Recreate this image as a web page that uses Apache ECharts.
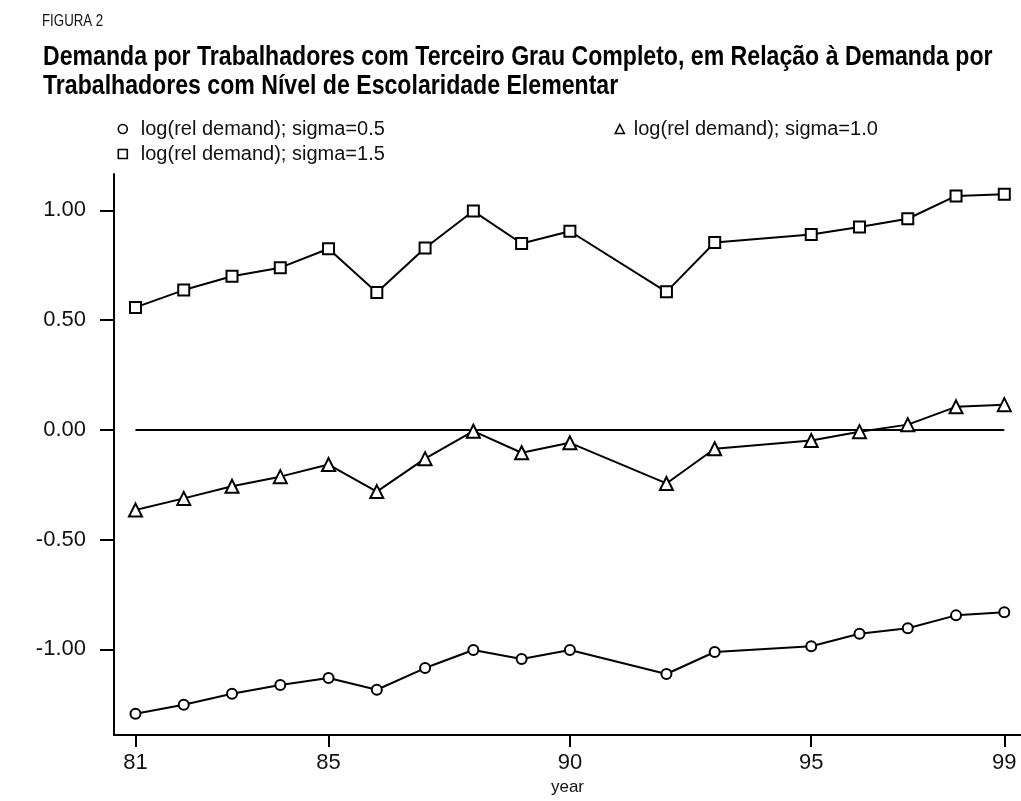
<!DOCTYPE html>
<html>
<head>
<meta charset="utf-8">
<script src="https://cdn.jsdelivr.net/npm/echarts@6/dist/echarts.min.js"></script>
<style>
html,body{margin:0;padding:0;background:#fff;}
#chart{width:1021px;height:801px;}
</style>
</head>
<body>
<div id="chart"></div>
<script>
const years = [81, 82, 83, 84, 85, 86, 87, 88, 89, 90, 92, 93, 95, 96, 97, 98, 99];
const sigma05 = [-1.293, -1.252, -1.202, -1.162, -1.130, -1.184, -1.085, -1.003, -1.044, -1.003, -1.112, -1.012, -0.986, -0.929, -0.904, -0.845, -0.831];
const sigma10 = [-0.365, -0.312, -0.257, -0.213, -0.158, -0.281, -0.131, -0.006, -0.104, -0.059, -0.244, -0.086, -0.048, -0.008, 0.024, 0.105, 0.115];
const sigma15 = [0.558, 0.637, 0.700, 0.739, 0.825, 0.626, 0.829, 0.997, 0.849, 0.905, 0.629, 0.854, 0.890, 0.924, 0.962, 1.066, 1.074];
const zeroLine = [[81, 0], [99, 0]];
const xTicks = [81, 85, 90, 95, 99];
const yTicks = [-1.0, -0.5, 0.0, 0.5, 1.0];
const names = ['log(rel demand); sigma=0.5', 'log(rel demand); sigma=1.0', 'log(rel demand); sigma=1.5'];
const figLabel = 'FIGURA 2';
const titleText = 'Demanda por Trabalhadores com Terceiro Grau Completo, em Relação à Demanda por\nTrabalhadores com Nível de Escolaridade Elementar';

const FONT = '"Liberation Sans", Arial, sans-serif';
const pair = (vals) => years.map((y, i) => [y, vals[i]]);

const chart = echarts.init(document.getElementById('chart'), null, {renderer: 'canvas'});

const legendBase = {
  orient: 'horizontal',
  padding: 0,
  itemWidth: 9,
  itemHeight: 9,
  inactiveColor: '#111',
  selectedMode: false
};
const legendText = (pad) => ({fontFamily: FONT, fontSize: 20, color: '#111', padding: [0, 0, 0, pad]});
const iconStyle = {color: '#fff', borderColor: '#000', borderWidth: 1.6};

const seriesStyle = (name, symbol, size, vals) => ({
  name: name,
  type: 'line',
  data: pair(vals),
  symbol: symbol,
  symbolSize: size,
  showAllSymbol: true,
  lineStyle: {color: '#000', width: 2},
  itemStyle: {color: '#000', borderColor: '#000', borderWidth: 2},
  emphasis: {disabled: true},
  z: 3,
  animation: false
});

chart.setOption({
  backgroundColor: '#fff',
  animation: false,
  graphic: [
    {type: 'text', x: 42, y: 14, scaleX: 0.83,
     style: {text: figLabel, font: 'normal 16px "Liberation Sans", Arial, sans-serif', fill: '#111', verticalAlign: 'top'}},
    {type: 'text', x: 43, y: 43, scaleX: 0.825,
     style: {text: titleText, font: 'bold 28px "Liberation Sans", Arial, sans-serif', lineHeight: 29, fill: '#000', verticalAlign: 'top'}}
  ],
  legend: [
    Object.assign({}, legendBase, {left: 117.5, top: 119, textStyle: legendText(8.5),
      data: [{name: names[0], icon: 'circle', itemStyle: iconStyle}]}),
    Object.assign({}, legendBase, {left: 614.5, top: 119, textStyle: legendText(4.5),
      data: [{name: names[1], icon: 'triangle', itemStyle: iconStyle}]}),
    Object.assign({}, legendBase, {left: 117.5, top: 144, textStyle: legendText(8.5),
      data: [{name: names[2], icon: 'rect', itemStyle: iconStyle}]})
  ],
  grid: {left: 114, right: 0, top: 174, bottom: 65, containLabel: false},
  xAxis: {
    type: 'value',
    min: 80.555,
    max: 99.346,
    name: 'year',
    nameLocation: 'middle',
    nameGap: 44,
    nameTextStyle: {fontFamily: FONT, fontSize: 17, color: '#111'},
    axisLine: {show: true, onZero: false, lineStyle: {color: '#000', width: 2}},
    axisTick: {show: true, customValues: xTicks, length: 12, inside: false, lineStyle: {color: '#000', width: 2}},
    axisLabel: {show: true, customValues: xTicks, margin: 17,
                fontFamily: FONT, fontSize: 22, color: '#111', formatter: (v) => String(v)},
    splitLine: {show: false}
  },
  yAxis: {
    type: 'value',
    min: -1.39,
    max: 1.1658,
    axisLine: {show: true, onZero: false, lineStyle: {color: '#000', width: 2}},
    axisTick: {show: true, customValues: yTicks, length: 14, inside: false, lineStyle: {color: '#000', width: 2}},
    axisLabel: {show: true, customValues: yTicks, margin: 28,
                fontFamily: FONT, fontSize: 22, color: '#111', formatter: (v) => v.toFixed(2)},
    splitLine: {show: false}
  },
  series: [
    seriesStyle(names[0], 'emptyCircle', 10, sigma05),
    seriesStyle(names[1], 'emptyTriangle', 13, sigma10),
    seriesStyle(names[2], 'emptyRect', 11, sigma15),
    {
      name: 'zero',
      type: 'line',
      data: zeroLine,
      symbol: 'none',
      lineStyle: {color: '#000', width: 2},
      emphasis: {disabled: true},
      z: 2,
      silent: true,
      animation: false
    }
  ]
});
</script>
</body>
</html>
